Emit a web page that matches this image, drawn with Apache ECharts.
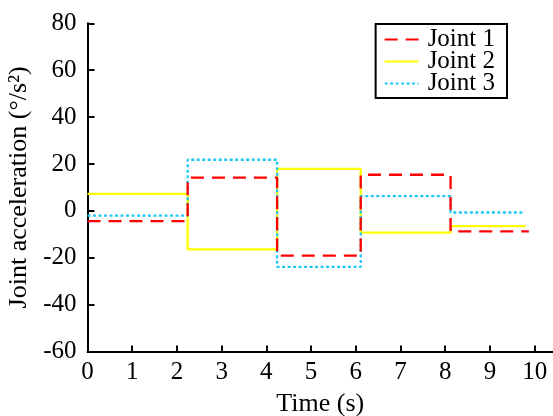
<!DOCTYPE html>
<html>
<head>
<meta charset="utf-8">
<script src="https://cdn.jsdelivr.net/npm/echarts@6/dist/echarts.min.js"></script>
<style>
  html, body { margin: 0; padding: 0; background: #fff; }
  #chart { width: 553px; height: 416px; }
</style>
</head>
<body>
<div id="chart"></div>
<script>
// Step profiles: each joint holds a constant acceleration between switch times.
const seriesNames = ['Joint 1', 'Joint 2', 'Joint 3'];
const switchTimes = [0, 2.24, 4.24, 6.11, 8.12];
const endTimes = [9.87, 9.8, 9.75];
const joint1 = [-4.4, 14.2, -19.1, 15.4, -8.8];
const joint2 = [7.2, -16.4, 17.9, -9.3, -6.5];
const joint3 = [-2.0, 21.8, -23.9, 6.3, -0.7];
const xTicks = [0, 1, 2, 3, 4, 5, 6, 7, 8, 9, 10];

const FONT = 'Liberation Serif';

// [t, v] pairs for a step:'end' line; last level held until the end time.
const steps = (levels, tEnd) => {
  const pts = switchTimes.map((t, i) => [t, levels[i]]);
  pts.push([tEnd, levels[levels.length - 1]]);
  return pts;
};

const styles = [
  { color: '#ff0000', type: [13, 8], z: 4 },
  { color: '#ffff00', type: 'solid', z: 2 },
  { color: '#1ec8f5', type: [3, 2.5], z: 3 },
];
const levels = [joint1, joint2, joint3];

const chart = echarts.init(document.getElementById('chart'), null, { renderer: 'canvas' });
chart.setOption({
  animation: false,
  grid: { left: 87.5, right: 0, top: 23.3, bottom: 64.5, outerBoundsMode: 'none', containLabel: false },
  legend: {
    data: seriesNames,
    orient: 'vertical',
    right: 46, top: 24,
    backgroundColor: '#fff',
    borderColor: '#000', borderWidth: 2, borderRadius: 0,
    padding: [3, 12, 2, 8],
    itemGap: -3, itemWidth: 34, itemHeight: 8,
    itemStyle: { opacity: 0 },
    textStyle: { fontFamily: FONT, fontSize: 25, color: '#000', lineHeight: 20, padding: [0, 0, 0, 4] },
  },
  xAxis: {
    type: 'value', min: 0, max: 10.41, interval: 1,
    name: 'Time (s)', nameLocation: 'middle', nameGap: 40,
    nameTextStyle: { fontFamily: FONT, fontSize: 26, color: '#000' },
    axisLine: { show: true, onZero: false, lineStyle: { color: '#000', width: 2 } },
    axisTick: { show: true, inside: true, length: 6, customValues: xTicks, lineStyle: { color: '#000', width: 2 } },
    axisLabel: { customValues: xTicks, fontFamily: FONT, fontSize: 25, color: '#000', margin: 8 },
    splitLine: { show: false },
  },
  yAxis: {
    type: 'value', min: -60, max: 80, interval: 20,
    name: 'Joint acceleration (°/s²)', nameLocation: 'middle', nameGap: 53,
    nameTextStyle: { fontFamily: FONT, fontSize: 26, color: '#000' },
    axisLine: { show: true, onZero: false, lineStyle: { color: '#000', width: 2 } },
    axisTick: { show: true, inside: true, length: 7, lineStyle: { color: '#000', width: 2 } },
    axisLabel: { fontFamily: FONT, fontSize: 25, color: '#000', margin: 11 },
    splitLine: { show: false },
  },
  series: seriesNames.map((name, i) => ({
    name, type: 'line', step: 'end', symbol: 'none', z: styles[i].z,
    data: steps(levels[i], endTimes[i]),
    itemStyle: { color: styles[i].color },
    lineStyle: { color: styles[i].color, width: 2.3, type: styles[i].type },
  })),
});
</script>
</body>
</html>
